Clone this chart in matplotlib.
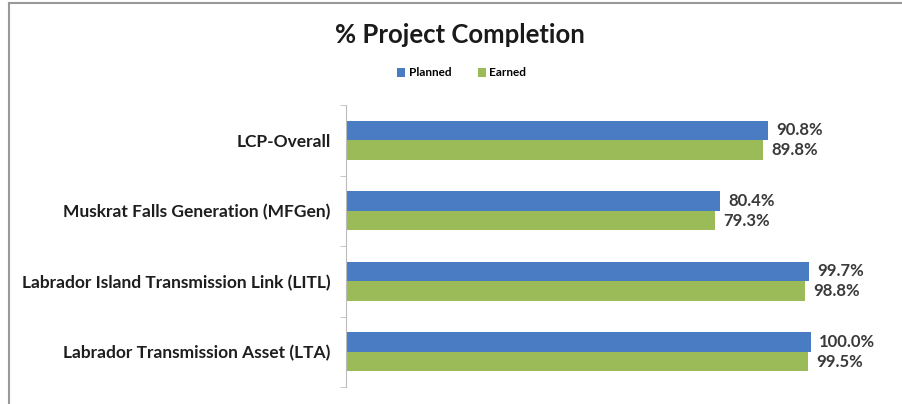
import matplotlib.pyplot as plt
import numpy as np
from matplotlib.lines import Line2D

# Data
categories = ['LCP-Overall',
              'Muskrat Falls Generation (MFGen)',
              'Labrador Island Transmission Link (LITL)',
              'Labrador Transmission Asset (LTA)']
planned = [90.8, 80.4, 99.7, 100.0]
earned = [89.8, 79.3, 98.8, 99.5]
series_names = ['Planned', 'Earned']

blue = '#4A7CC4'
green = '#9BBB59'

plt.rcParams['font.family'] = ['Lato', 'DejaVu Sans']

fig = plt.figure(figsize=(9.02, 4.04), dpi=100)
ax = fig.add_axes([346 / 902, 1 - 387 / 404, 553 / 902, 282 / 404])

y = np.arange(len(categories))
h = 0.28
b1 = ax.barh(y - h / 2, planned, height=h, color=blue, label=series_names[0])
b2 = ax.barh(y + h / 2, earned, height=h, color=green, label=series_names[1])

for bars, vals in ((b1, planned), (b2, earned)):
    for bar, v in zip(bars, vals):
        ax.annotate('{:.1f}%'.format(v), (bar.get_width(), bar.get_y() + bar.get_height() / 2),
                    xytext=(6, 0), textcoords='offset points', va='center', ha='left',
                    fontsize=12, fontweight='bold', color='#3a3a3a')

ax.set_xlim(0, 119)
ax.set_ylim(len(categories) - 0.5, -0.5)
ax.set_yticks(y)
ax.set_yticklabels(categories, fontsize=12.5, fontweight='bold', color='#1e1e1e')
ax.set_yticks(np.arange(len(categories) + 1) - 0.5, minor=True)
ax.tick_params(axis='y', which='major', length=0, pad=11)
ax.tick_params(axis='y', which='minor', length=4, color='#bbbbbb', direction='out')
ax.set_xticks([])
for s in ['top', 'right', 'bottom']:
    ax.spines[s].set_visible(False)
ax.spines['left'].set_color('#bbbbbb')

fig.text(0.51, 1 - 35 / 404, '% Project Completion', ha='center', va='center',
         fontsize=18.5, fontweight='bold', color='#1a1a1a')
fig.legend(handles=[b1, b2], loc='center', bbox_to_anchor=(0.512, 1 - 73 / 404), ncol=2,
           frameon=False, handlelength=0.7, handleheight=0.7,
           handletextpad=0.3, columnspacing=2.2, prop={'weight': 'bold', 'size': 8.5})

# chart border (top and left edges visible)
fig.add_artist(Line2D([9 / 902, 1], [1 - 3 / 404, 1 - 3 / 404], color='#999999', lw=1.5))
fig.add_artist(Line2D([9 / 902, 9 / 902], [0, 1 - 3 / 404], color='#999999', lw=1.5))

fig.savefig('out.png', dpi=100)
